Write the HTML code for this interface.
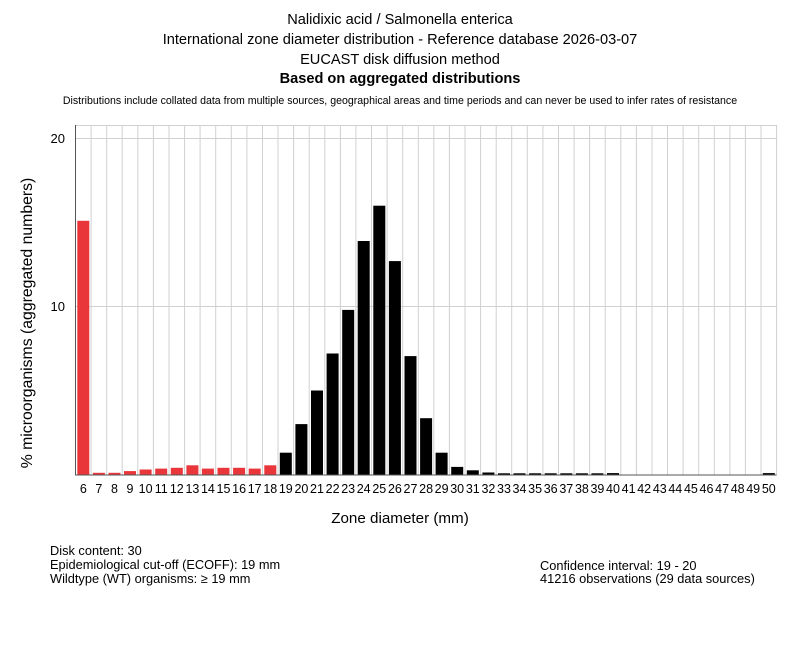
<!DOCTYPE html>
<html><head><meta charset="utf-8"><style>
html,body{margin:0;padding:0;background:#fff;}
svg{display:block;font-family:"Liberation Sans",sans-serif;}
</style></head><body>
<svg width="800" height="650" viewBox="0 0 800 650" xmlns="http://www.w3.org/2000/svg">
<rect width="800" height="650" fill="#fff"/>
<g text-anchor="middle" fill="#000">
<text x="400" y="24" font-size="14.6">Nalidixic acid / Salmonella enterica</text>
<text x="400" y="44" font-size="14.6">International zone diameter distribution - Reference database 2026-03-07</text>
<text x="400" y="64" font-size="14.6">EUCAST disk diffusion method</text>
<text x="400" y="83" font-size="14.6" font-weight="bold">Based on aggregated distributions</text>
<text x="400" y="104" font-size="10.6">Distributions include collated data from multiple sources, geographical areas and time periods and can never be used to infer rates of resistance</text>
</g>
<g stroke="#d0d0d0" stroke-width="1">
<line x1="75.5" y1="125.5" x2="776.6" y2="125.5"/>
<line x1="75.5" y1="138.5" x2="776.6" y2="138.5"/>
<line x1="75.5" y1="306.5" x2="776.6" y2="306.5"/>
<line x1="91.1" y1="125" x2="91.1" y2="475"/><line x1="106.7" y1="125" x2="106.7" y2="475"/><line x1="122.2" y1="125" x2="122.2" y2="475"/><line x1="137.8" y1="125" x2="137.8" y2="475"/><line x1="153.4" y1="125" x2="153.4" y2="475"/><line x1="169.0" y1="125" x2="169.0" y2="475"/><line x1="184.6" y1="125" x2="184.6" y2="475"/><line x1="200.1" y1="125" x2="200.1" y2="475"/><line x1="215.7" y1="125" x2="215.7" y2="475"/><line x1="231.3" y1="125" x2="231.3" y2="475"/><line x1="246.9" y1="125" x2="246.9" y2="475"/><line x1="262.5" y1="125" x2="262.5" y2="475"/><line x1="278.0" y1="125" x2="278.0" y2="475"/><line x1="293.6" y1="125" x2="293.6" y2="475"/><line x1="309.2" y1="125" x2="309.2" y2="475"/><line x1="324.8" y1="125" x2="324.8" y2="475"/><line x1="340.4" y1="125" x2="340.4" y2="475"/><line x1="355.9" y1="125" x2="355.9" y2="475"/><line x1="371.5" y1="125" x2="371.5" y2="475"/><line x1="387.1" y1="125" x2="387.1" y2="475"/><line x1="402.7" y1="125" x2="402.7" y2="475"/><line x1="418.3" y1="125" x2="418.3" y2="475"/><line x1="433.8" y1="125" x2="433.8" y2="475"/><line x1="449.4" y1="125" x2="449.4" y2="475"/><line x1="465.0" y1="125" x2="465.0" y2="475"/><line x1="480.6" y1="125" x2="480.6" y2="475"/><line x1="496.2" y1="125" x2="496.2" y2="475"/><line x1="511.7" y1="125" x2="511.7" y2="475"/><line x1="527.3" y1="125" x2="527.3" y2="475"/><line x1="542.9" y1="125" x2="542.9" y2="475"/><line x1="558.5" y1="125" x2="558.5" y2="475"/><line x1="574.1" y1="125" x2="574.1" y2="475"/><line x1="589.6" y1="125" x2="589.6" y2="475"/><line x1="605.2" y1="125" x2="605.2" y2="475"/><line x1="620.8" y1="125" x2="620.8" y2="475"/><line x1="636.4" y1="125" x2="636.4" y2="475"/><line x1="652.0" y1="125" x2="652.0" y2="475"/><line x1="667.5" y1="125" x2="667.5" y2="475"/><line x1="683.1" y1="125" x2="683.1" y2="475"/><line x1="698.7" y1="125" x2="698.7" y2="475"/><line x1="714.3" y1="125" x2="714.3" y2="475"/><line x1="729.9" y1="125" x2="729.9" y2="475"/><line x1="745.4" y1="125" x2="745.4" y2="475"/><line x1="761.0" y1="125" x2="761.0" y2="475"/><line x1="776.6" y1="125" x2="776.6" y2="475"/>
</g>
<g fill="#e8363a">
<rect x="77.3" y="220.8" width="12" height="253.7"/>
<rect x="92.9" y="472.8" width="12" height="1.7"/>
<rect x="108.5" y="472.8" width="12" height="1.7"/>
<rect x="124.0" y="471.1" width="12" height="3.4"/>
<rect x="139.6" y="469.5" width="12" height="5"/>
<rect x="155.2" y="468.6" width="12" height="5.9"/>
<rect x="170.8" y="467.8" width="12" height="6.7"/>
<rect x="186.4" y="465.3" width="12" height="9.2"/>
<rect x="201.9" y="468.6" width="12" height="5.9"/>
<rect x="217.5" y="467.8" width="12" height="6.7"/>
<rect x="233.1" y="467.8" width="12" height="6.7"/>
<rect x="248.7" y="468.6" width="12" height="5.9"/>
<rect x="264.3" y="465.3" width="12" height="9.2"/>
</g>
<g fill="#000">
<rect x="279.8" y="452.7" width="12" height="21.8"/>
<rect x="295.4" y="424.1" width="12" height="50.4"/>
<rect x="311.0" y="390.5" width="12" height="84"/>
<rect x="326.6" y="353.5" width="12" height="121"/>
<rect x="342.2" y="309.9" width="12" height="164.6"/>
<rect x="357.7" y="241" width="12" height="233.5"/>
<rect x="373.3" y="205.7" width="12" height="268.8"/>
<rect x="388.9" y="261.1" width="12" height="213.4"/>
<rect x="404.5" y="356.1" width="12" height="118.4"/>
<rect x="420.1" y="418.2" width="12" height="56.3"/>
<rect x="435.6" y="452.7" width="12" height="21.8"/>
<rect x="451.2" y="466.9" width="12" height="7.6"/>
<rect x="466.8" y="470.3" width="12" height="4.2"/>
<rect x="482.4" y="472.5" width="12" height="2"/>
<rect x="498.0" y="473.3" width="12" height="1.2"/>
<rect x="513.5" y="473.3" width="12" height="1.2"/>
<rect x="529.1" y="473.3" width="12" height="1.2"/>
<rect x="544.7" y="473.3" width="12" height="1.2"/>
<rect x="560.3" y="473.3" width="12" height="1.2"/>
<rect x="575.9" y="473.3" width="12" height="1.2"/>
<rect x="591.4" y="473.3" width="12" height="1.2"/>
<rect x="607.0" y="473.1" width="12" height="1.4"/>
<rect x="762.8" y="473.1" width="12" height="1.4"/>
</g>
<g stroke="#555" stroke-width="1">
<line x1="75.5" y1="125" x2="75.5" y2="475"/>
<line x1="75" y1="475" x2="776.6" y2="475"/>
</g>
<g font-size="13" text-anchor="end" fill="#000">
<text x="65" y="143">20</text>
<text x="65" y="311">10</text>
</g>
<g font-size="12.5" text-anchor="middle" fill="#000">
<text x="83.3" y="493">6</text><text x="98.9" y="493">7</text><text x="114.5" y="493">8</text><text x="130.0" y="493">9</text><text x="145.6" y="493">10</text><text x="161.2" y="493">11</text><text x="176.8" y="493">12</text><text x="192.4" y="493">13</text><text x="207.9" y="493">14</text><text x="223.5" y="493">15</text><text x="239.1" y="493">16</text><text x="254.7" y="493">17</text><text x="270.3" y="493">18</text><text x="285.8" y="493">19</text><text x="301.4" y="493">20</text><text x="317.0" y="493">21</text><text x="332.6" y="493">22</text><text x="348.2" y="493">23</text><text x="363.7" y="493">24</text><text x="379.3" y="493">25</text><text x="394.9" y="493">26</text><text x="410.5" y="493">27</text><text x="426.1" y="493">28</text><text x="441.6" y="493">29</text><text x="457.2" y="493">30</text><text x="472.8" y="493">31</text><text x="488.4" y="493">32</text><text x="504.0" y="493">33</text><text x="519.5" y="493">34</text><text x="535.1" y="493">35</text><text x="550.7" y="493">36</text><text x="566.3" y="493">37</text><text x="581.9" y="493">38</text><text x="597.4" y="493">39</text><text x="613.0" y="493">40</text><text x="628.6" y="493">41</text><text x="644.2" y="493">42</text><text x="659.8" y="493">43</text><text x="675.3" y="493">44</text><text x="690.9" y="493">45</text><text x="706.5" y="493">46</text><text x="722.1" y="493">47</text><text x="737.7" y="493">48</text><text x="753.2" y="493">49</text><text x="768.8" y="493">50</text>
</g>
<text x="400" y="523" font-size="15.2" text-anchor="middle">Zone diameter (mm)</text>
<text x="0" y="0" font-size="15.8" text-anchor="middle" transform="translate(32,323) rotate(-90)">% microorganisms (aggregated numbers)</text>
<g font-size="12.8" fill="#000">
<text x="50" y="555">Disk content: 30</text>
<text x="50" y="569">Epidemiological cut-off (ECOFF): 19 mm</text>
<text x="50" y="583">Wildtype (WT) organisms: ≥ 19 mm</text>
<text x="540" y="570">Confidence interval: 19 - 20</text>
<text x="540" y="583">41216 observations (29 data sources)</text>
</g>
</svg>
</body></html>
